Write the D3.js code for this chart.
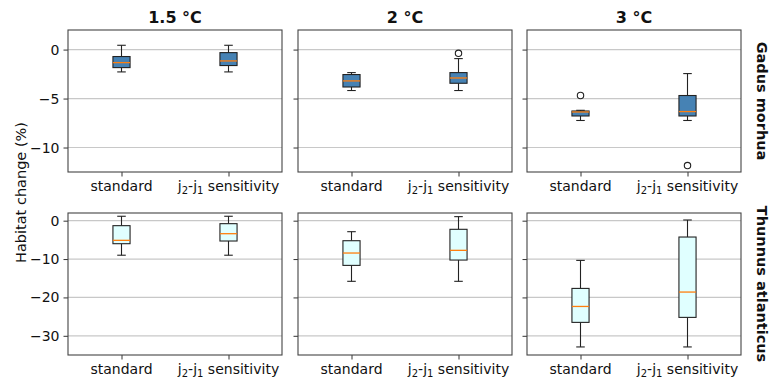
<!DOCTYPE html>
<html>
<head>
<meta charset="utf-8">
<script src="https://cdn.jsdelivr.net/npm/d3@7"></script>
<style>
  body { margin: 0; background: #fff; }
  svg text { font-family: "DejaVu Sans", sans-serif; fill: #111; }
</style>
</head>
<body>
<div id="chart"></div>
<script>
// warming levels (columns) and species (rows)
var temps = ["1.5 °C", "2 °C", "3 °C"];
var species = ["Gadus morhua", "Thunnus atlanticus"];
var methods = ["standard", "sensitivity"];

// box stats per warming level: [whiskerLow, q1, median, q3, whiskerHigh]
var gadusStandard = [
  [-2.28, -1.84, -1.33, -0.71, 0.44],
  [-4.18, -3.82, -3.2, -2.55, -2.35],
  [-7.24, -6.78, -6.37, -6.27, -6.2]
];
var gadusSensitivity = [
  [-2.28, -1.63, -1.16, -0.31, 0.44],
  [-4.18, -3.44, -2.9, -2.35, -0.92],
  [-7.24, -6.78, -6.33, -4.69, -2.45]
];
var gadusStandardOut = [[], [], [-4.69]];
var gadusSensitivityOut = [[], [-0.38], [-11.84]];

var thunnusStandard = [
  [-9.0, -6.0, -5.12, -1.3, 1.15],
  [-15.8, -11.65, -8.43, -5.22, -2.87],
  [-32.9, -26.5, -22.35, -17.65, -10.35]
];
var thunnusSensitivity = [
  [-9.0, -5.3, -3.39, -0.78, 1.15],
  [-15.8, -10.26, -7.73, -2.25, 1.05],
  [-32.9, -25.2, -18.6, -4.26, 0.18]
];
var thunnusStandardOut = [[], [], []];
var thunnusSensitivityOut = [[], [], []];

var gadusTicks = [0, -5, -10];
var thunnusTicks = [0, -10, -20, -30];

var width = 772, height = 380;
var colLeft = [68, 298, 527], panelW = 214;
var rowTop = [30, 213], panelH = 142;
var boxFill = ["#4682b4", "#e0ffff"];

var rows = [
  { name: species[0], stats: [gadusStandard, gadusSensitivity], out: [gadusStandardOut, gadusSensitivityOut],
    domain: [-12.5, 2], ticks: gadusTicks },
  { name: species[1], stats: [thunnusStandard, thunnusSensitivity], out: [thunnusStandardOut, thunnusSensitivityOut],
    domain: [-35, 2], ticks: thunnusTicks }
];

var svg = d3.select("#chart").append("svg")
  .attr("width", width)
  .attr("height", height);

var fmt = function(d) { return d < 0 ? "\u2212" + Math.abs(d) : String(d); };

rows.forEach(function(row, r) {
  var y = d3.scaleLinear().domain(row.domain).range([rowTop[r] + panelH, rowTop[r]]);

  temps.forEach(function(t, c) {
    var x = d3.scaleLinear().domain([0.5, 2.5]).range([colLeft[c], colLeft[c] + panelW]);
    var g = svg.append("g");

    // grid
    g.selectAll(".grid").data(row.ticks).enter().append("line")
      .attr("x1", colLeft[c]).attr("x2", colLeft[c] + panelW)
      .attr("y1", function(d) { return y(d); }).attr("y2", function(d) { return y(d); })
      .attr("stroke", "#c8c8c8").attr("stroke-width", 1.2);

    // y axis ticks
    var yAxis = d3.axisLeft(y).tickValues(row.ticks).tickSize(4.5).tickPadding(4)
      .tickFormat(c === 0 ? fmt : "");
    var ya = g.append("g").attr("transform", "translate(" + colLeft[c] + ",0)").call(yAxis);
    ya.select(".domain").remove();
    ya.selectAll("line").attr("stroke", "#333");
    ya.selectAll("text").attr("font-size", 14).attr("font-family", "DejaVu Sans").attr("fill", "#111");

    // x axis ticks
    var xAxis = d3.axisBottom(x).tickValues([1, 2]).tickSize(4.5).tickPadding(5).tickFormat("");
    var xa = g.append("g").attr("transform", "translate(0," + (rowTop[r] + panelH) + ")").call(xAxis);
    xa.select(".domain").remove();
    xa.selectAll("line").attr("stroke", "#333");
    var labY = rowTop[r] + panelH + 19;
    g.append("text").attr("x", x(1)).attr("y", labY).attr("text-anchor", "middle")
      .attr("font-size", 14).text(methods[0]);
    var lab = g.append("text").attr("x", x(2)).attr("y", labY).attr("text-anchor", "middle")
      .attr("font-size", 14);
    lab.append("tspan").text("j");
    lab.append("tspan").attr("font-size", 10).attr("dy", 3).text("2");
    lab.append("tspan").attr("dy", -3).text("-j");
    lab.append("tspan").attr("font-size", 10).attr("dy", 3).text("1");
    lab.append("tspan").attr("dy", -3).text(" " + methods[1]);

    // boxes
    var bw = 0.16;
    [0, 1].forEach(function(m) {
      var s = row.stats[m][c];
      var cx = x(m + 1), half = (x(1 + bw / 2) - x(1));
      var capHalf = half / 2;
      var bg = g.append("g").attr("stroke", "#222").attr("stroke-width", 1.1);
      bg.append("line").attr("x1", cx).attr("x2", cx).attr("y1", y(s[0])).attr("y2", y(s[1]));
      bg.append("line").attr("x1", cx).attr("x2", cx).attr("y1", y(s[3])).attr("y2", y(s[4]));
      bg.append("line").attr("x1", cx - capHalf).attr("x2", cx + capHalf).attr("y1", y(s[0])).attr("y2", y(s[0]));
      bg.append("line").attr("x1", cx - capHalf).attr("x2", cx + capHalf).attr("y1", y(s[4])).attr("y2", y(s[4]));
      bg.append("rect").attr("x", cx - half).attr("width", 2 * half)
        .attr("y", y(s[3])).attr("height", y(s[1]) - y(s[3]))
        .attr("fill", boxFill[r]);
      bg.append("line").attr("x1", cx - half).attr("x2", cx + half).attr("y1", y(s[2])).attr("y2", y(s[2]))
        .attr("stroke", "#ff7f0e").attr("stroke-width", 1.3);
      bg.selectAll("circle").data(row.out[m][c]).enter().append("circle")
        .attr("cx", cx).attr("cy", function(d) { return y(d); }).attr("r", 3.2)
        .attr("fill", "none").attr("stroke", "#222");
    });

    // frame
    g.append("rect").attr("x", colLeft[c]).attr("y", rowTop[r]).attr("width", panelW).attr("height", panelH)
      .attr("fill", "none").attr("stroke", "#444").attr("stroke-width", 1.1);

    if (r === 0) {
      svg.append("text").attr("x", colLeft[c] + panelW / 2).attr("y", rowTop[0] - 7)
        .attr("text-anchor", "middle").attr("font-size", 16).attr("font-weight", "bold").text(t);
    }
  });

  var cy = rowTop[r] + panelH / 2;
  svg.append("text").attr("transform", "translate(757," + cy + ") rotate(90)")
    .attr("text-anchor", "middle").attr("font-size", 14.5).attr("font-weight", "bold").text(row.name);
});

svg.append("text").attr("transform", "translate(25.5," + ((rowTop[0] + rowTop[1] + panelH) / 2) + ") rotate(-90)")
  .attr("text-anchor", "middle").attr("font-size", 14.5).text("Habitat change (%)");
</script>
</body>
</html>
